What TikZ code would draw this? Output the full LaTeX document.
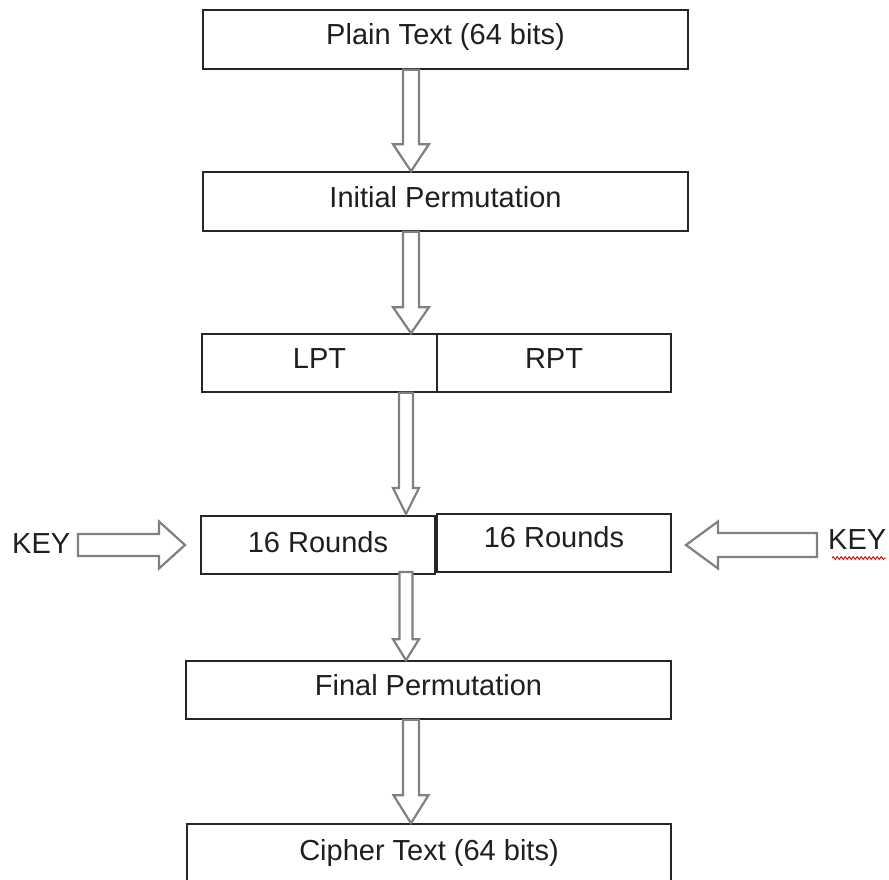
\documentclass[tikz,border=0pt]{standalone}
\usepackage{fontspec}
\setmainfont{Liberation Sans}
\usetikzlibrary{calc,decorations.pathmorphing}
\newcommand\dnarrow[5]{% #1 top, #2 tip, #3 shaft half, #4 head half, #5 head length
  \draw[blockarr] ([xshift=-#3]#1) -- ([xshift=#3]#1) -- ([xshift=#3,yshift=#5]#2)
    -- ([xshift=#4,yshift=#5]#2) -- (#2) -- ([xshift=-#4,yshift=#5]#2)
    -- ([xshift=-#3,yshift=#5]#2) -- cycle;}
\newcommand\hzarrow[5]{% #1 tail, #2 tip, #3 shaft half, #4 head half, #5 xshift tip->head base
  \draw[blockarr] ([yshift=#3]#1) -- ([xshift=#5,yshift=#3]#2) -- ([xshift=#5,yshift=#4]#2)
    -- (#2) -- ([xshift=#5,yshift=-#4]#2) -- ([xshift=#5,yshift=-#3]#2)
    -- ([yshift=-#3]#1) -- cycle;}
\begin{document}
\begin{tikzpicture}[x=1pt,y=-1pt,
  box/.style={draw=black!85, line width=1.6pt, inner sep=0pt, text=black!88,
    font=\fontsize{29}{34}\selectfont, text height=20pt, text depth=9pt},
  blockarr/.style={draw=black!50, line width=2.2pt, fill=white, line join=miter},
  lbl/.style={inner sep=0pt, text=black!88, font=\fontsize{29}{34}\selectfont, anchor=base west}]
\useasboundingbox (0,0) rectangle (889,880);
\fill[white] (0,0) rectangle (889,880);

% boxes
\node[box, minimum width=485pt, minimum height=59pt] (plain) at (445.5,39.5) {Plain Text (64 bits)};
\node[box, minimum width=485pt, minimum height=59pt] (init) at (445.5,201.5) {Initial Permutation};
\node[box, minimum width=235pt, minimum height=58pt] (lpt) at (319.5,363) {LPT};
\node[box, minimum width=234pt, minimum height=58pt] (rpt) at (554,363) {RPT};
\node[box, text depth=6pt, minimum width=234pt, minimum height=58pt] (rl) at (318,545) {16 Rounds};
\node[box, text depth=12pt, minimum width=234pt, minimum height=58pt] (rr) at (554,543) {16 Rounds};
\node[box, minimum width=485pt, minimum height=58pt] (final) at (428.5,690) {Final Permutation};
\node[box, text depth=12pt, minimum width=484pt, minimum height=64pt] (cipher) at (429,856) {Cipher Text (64 bits)};

% key labels
\node[lbl] (keyl) at (12,553) {KEY};
\node[lbl] (keyr) at (828,549) {KEY};

% arrow axes
\coordinate (xa) at (411,0);
\coordinate (xb) at (406,0);
\coordinate (a1t) at (xa |- plain.south);
\coordinate (a1b) at (xa |- init.north);
\coordinate (a2t) at (xa |- init.south);
\coordinate (a2b) at (xa |- lpt.north);
\coordinate (a3t) at (xb |- lpt.south);
\coordinate (a3b) at (406,514);
\coordinate (a4t) at (406,572);
\coordinate (a4b) at (xb |- final.north);
\coordinate (a5t) at (xa |- final.south);
\coordinate (a5b) at (xa |- cipher.north);

\dnarrow{a1t}{a1b}{8pt}{18pt}{27pt}
\dnarrow{a2t}{a2b}{8pt}{18pt}{26pt}
\dnarrow{a3t}{a3b}{7pt}{13pt}{26pt}
\dnarrow{a4t}{a4b}{6.5pt}{13pt}{21pt}
\dnarrow{a5t}{a5b}{8pt}{17.5pt}{28pt}

% key arrows
\coordinate (klt) at (78,545);
\coordinate (klh) at (185,545);
\coordinate (krt) at (817,545);
\coordinate (krh) at (686,545);
\hzarrow{klt}{klh}{11pt}{23.5pt}{-26pt}
\hzarrow{krt}{krh}{12pt}{23.5pt}{32pt}

% spell-check squiggle
\draw[red!85!black, line width=0.9pt, decorate,
  decoration={snake, amplitude=1.4pt, segment length=4pt}]
  ([xshift=4pt,yshift=-9pt]keyr.base west) -- ([yshift=-9pt]keyr.base east);
\end{tikzpicture}
\end{document}
